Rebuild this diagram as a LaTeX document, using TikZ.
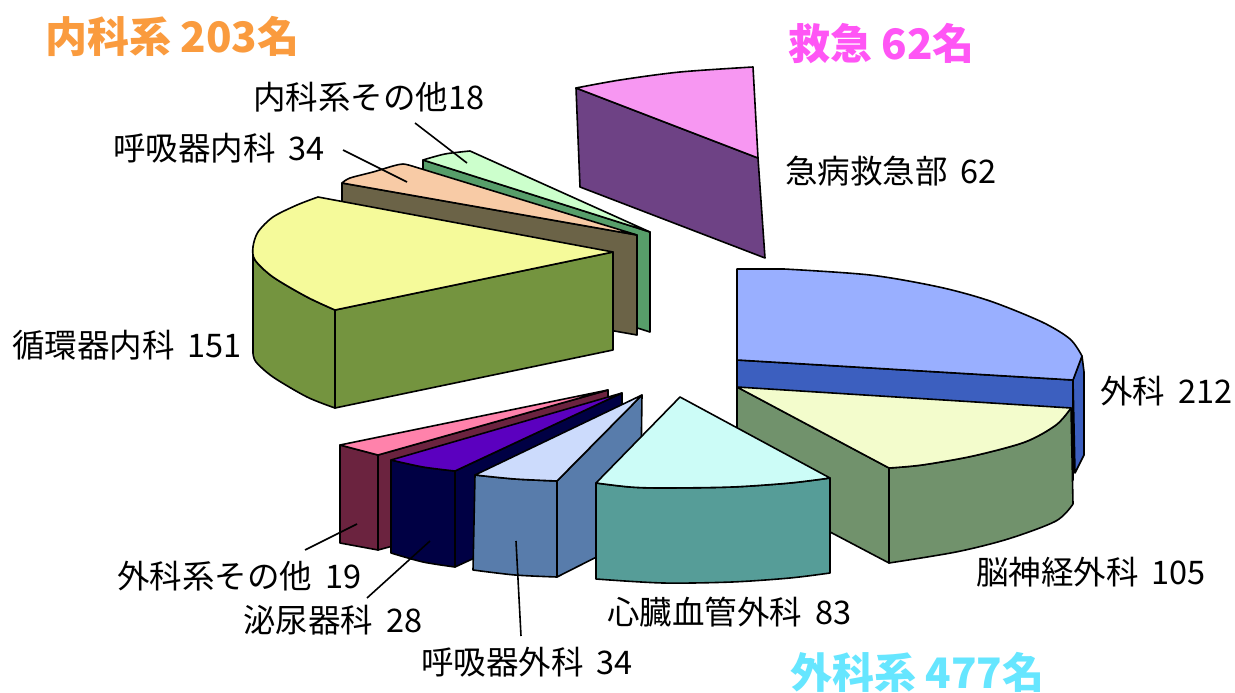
\documentclass[tikz,border=0pt]{standalone}
\usepackage{fontspec}
\setmainfont{Noto Sans CJK JP}
\newcommand\lgap{\hspace{0.4em}}
\definecolor{gT}{HTML}{CCFFCC}\definecolor{gS}{HTML}{579E6A}
\definecolor{pT}{HTML}{F8CBA6}\definecolor{brS}{HTML}{6B6347}
\definecolor{yT}{HTML}{F5FA9A}\definecolor{olS}{HTML}{74943F}
\definecolor{piT}{HTML}{F797F2}\definecolor{puS}{HTML}{6E4285}
\definecolor{bT}{HTML}{99AFFF}\definecolor{bS}{HTML}{3C5FBF}
\definecolor{lyT}{HTML}{F3FCCC}\definecolor{sgS}{HTML}{71926C}
\definecolor{cyT}{HTML}{CCFCF7}\definecolor{tlS}{HTML}{569D98}
\definecolor{lbT}{HTML}{CCDBFC}\definecolor{stS}{HTML}{587CAB}
\definecolor{viT}{HTML}{5B00BF}\definecolor{nvS}{HTML}{000044}
\definecolor{rpT}{HTML}{FF82AB}\definecolor{mrS}{HTML}{6B233F}
\definecolor{orTitle}{HTML}{FA9B3E}\definecolor{mgTitle}{HTML}{FF55F5}\definecolor{cyTitle}{HTML}{66E6FF}
\begin{document}
\begin{tikzpicture}[x=1pt,y=-1pt,
  face/.style={draw=black,line width=1.6pt,line join=round},
  lbl/.style={font=\fontsize{32.5}{32.5}\selectfont,inner sep=0pt,anchor=west},
  ttl/.style={font=\fontsize{42}{42}\selectfont\bfseries,inner sep=0pt,anchor=west},
  lead/.style={draw=black,line width=1.6pt}]
\useasboundingbox (0,0) rectangle (1235,693);
\fill[white] (0,0) rectangle (1235,693);
% ---- green slice (内科系その他)
\filldraw[face,fill=gS] (423,160) -- (650,232) -- (650,332) -- (423,260) -- cycle;
\filldraw[face,fill=gT] plot[smooth] coordinates {(423,160) (445,154) (470,151)} -- (650,232) -- cycle;
% ---- peach slice (呼吸器内科)
\filldraw[face,fill=brS] (342,183) -- (637,235) -- (637,335) -- (342,283) -- cycle;
\filldraw[face,fill=pT] plot[smooth] coordinates {(342,183) (350,178) (373,172) (393,166) (403,164) (412,166)} -- (637,235) -- cycle;
% ---- yellow slice (循環器内科)
\filldraw[face,fill=olS] plot[smooth] coordinates {(253,247) (255,260) (273,277) (307,297) (335,310)} -- (335,408) -- plot[smooth] coordinates {(335,408) (307,397) (273,377) (256,362) (253,353)} -- cycle;
\filldraw[face,fill=olS] (335,310) -- (613,252) -- (613,350) -- (335,408) -- cycle;
\filldraw[face,fill=yT] (613,252) -- plot[smooth] coordinates {(318,197) (297,205) (273,217) (258,232) (253,247) (255,260) (273,277) (307,297) (335,310)} -- cycle;
% ---- emergency
\filldraw[face,fill=puS] (576,88) -- (758,158) -- (765,258) -- (580,187) -- cycle;
\filldraw[face,fill=piT] plot[smooth] coordinates {(576,88) (620,80) (680,72) (753,67)} -- (758,158) -- cycle;
% ---- surgery (外科)
\filldraw[face,fill=bS] (1073,380) -- (1082,356) -- (1084,372) -- (1084,455) -- (1075,473) -- cycle;
\filldraw[face,fill=bS] (737,360) -- (1073,380) -- (1073,480) -- (737,460) -- cycle;
\filldraw[face,fill=bT] (737,360) -- (737,269) -- plot[smooth] coordinates {(784,269) (870,275) (939,287) (990,301) (1042,322) (1070,339) (1082,356)} -- (1073,380) -- cycle;
% ---- brain (脳神経外科)
\filldraw[face,fill=sgS] (737,387) -- (889,468) -- (889,563) -- (737,483) -- cycle;
\filldraw[face,fill=sgS] plot[smooth] coordinates {(889,468) (922,465) (973,456) (1025,442) (1056,425) (1071,408)} -- (1073,504) -- plot[smooth] coordinates {(1073,504) (1056,521) (1008,539) (956,552) (889,563)} -- cycle;
\filldraw[face,fill=lyT] (737,387) -- plot[smooth] coordinates {(1071,408) (1056,425) (1025,442) (973,456) (922,465) (889,468)} -- cycle;
% ---- 外科系その他
\filldraw[face,fill=mrS] (378,455) -- (608,390) -- (608,488) -- (378,550) -- cycle;
\filldraw[face,fill=mrS] (340,445) -- (378,455) -- (378,550) -- (340,543) -- cycle;
\filldraw[face,fill=rpT] (340,445) -- (378,455) -- (608,390) -- cycle;
% ---- 泌尿器科
\filldraw[face,fill=nvS] (455,471) -- (622,393) -- (622,490) -- (455,567) -- cycle;
\filldraw[face,fill=nvS] plot[smooth] coordinates {(391,460) (423,467) (455,471)} -- (455,567) -- plot[smooth] coordinates {(455,567) (423,562) (391,553)} -- cycle;
\filldraw[face,fill=viT] plot[smooth] coordinates {(391,460) (423,467) (455,471)} -- (622,393) -- cycle;
% ---- 呼吸器外科
\filldraw[face,fill=stS] (557,481) -- (642,395) -- (640,535) -- (557,577) -- cycle;
\filldraw[face,fill=stS] plot[smooth] coordinates {(475,475) (515,479) (557,481)} -- (557,577) -- plot[smooth] coordinates {(557,577) (515,575) (473,570)} -- cycle;
\filldraw[face,fill=lbT] plot[smooth] coordinates {(475,475) (515,479) (557,481)} -- (642,395) -- cycle;
% ---- heart (心臓血管外科)
\filldraw[face,fill=tlS] plot[smooth] coordinates {(596,483) (630,487) (663,488) (732,487) (790,483) (830,478)} -- (830,573) -- plot[smooth] coordinates {(830,573) (790,578) (732,582) (663,583) (596,579)} -- cycle;
\filldraw[face,fill=cyT] (680,397) -- plot[smooth] coordinates {(830,478) (790,483) (732,487) (663,488) (630,487) (596,483)} -- cycle;
% ---- titles
\node[ttl,text=orTitle] (t1) at (45,36) {内科系 203名};
\node[ttl,text=mgTitle] (t2) at (788,44) {救急 62名};
\node[ttl,text=cyTitle] (t3) at (790,672) {外科系 477名};
% ---- labels
\node[lbl] (n1) at (253,97) {内科系その他18};
\node[lbl] (n2) at (113,148) {呼吸器内科\lgap34};
\node[lbl] (n3) at (12,345) {循環器内科\lgap151};
\node[lbl] (n4) at (785,171) {急病救急部\lgap62};
\node[lbl] (n5) at (1100,391) {外科\lgap212};
\node[lbl] (n6) at (976,572) {脳神経外科\lgap105};
\node[lbl] (n7) at (607,612) {心臓血管外科\lgap83};
\node[lbl] (n8) at (421,662) {呼吸器外科\lgap34};
\node[lbl] (n9) at (243,620) {泌尿器科\lgap28};
\node[lbl] (n10) at (117,576) {外科系その他\lgap19};
% ---- leader lines
\coordinate (l1a) at (415,123); \coordinate (l1b) at (467,163);
\coordinate (l2a) at (343,150); \coordinate (l2b) at (407,182);
\coordinate (l3a) at (305,550); \coordinate (l3b) at (357,524);
\coordinate (l4a) at (367,598); \coordinate (l4b) at (430,541);
\coordinate (l5a) at (521,636); \coordinate (l5b) at (516,541);
\draw[lead] (l1a) -- (l1b);
\draw[lead] (l2a) -- (l2b);
\draw[lead] (l3a) -- (l3b);
\draw[lead] (l4a) -- (l4b);
\draw[lead] (l5a) -- (l5b);
\end{tikzpicture}
\end{document}
